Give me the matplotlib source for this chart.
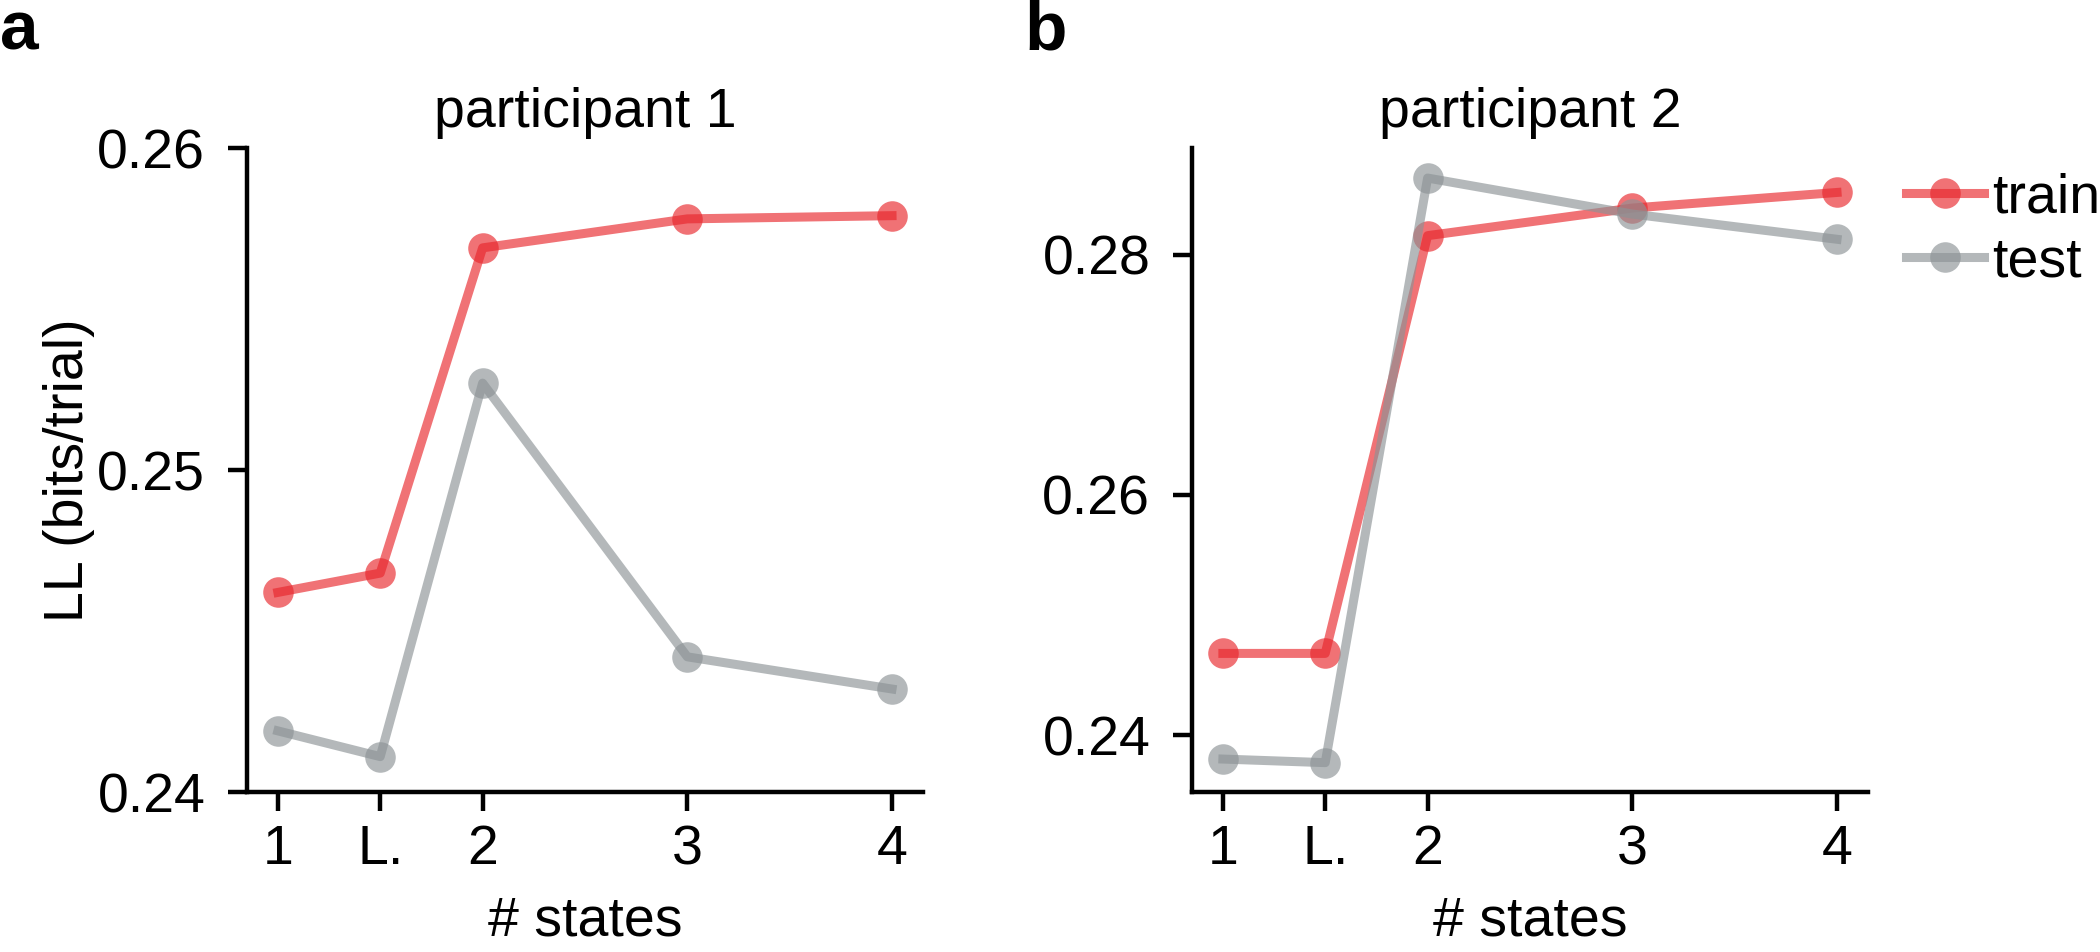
import matplotlib
matplotlib.use('Agg')
import matplotlib.pyplot as plt

plt.rcParams['font.family'] = ['Liberation Sans', 'DejaVu Sans']

# data
x_pos = [1, 1.5, 2, 3, 4]
x_labels = ['1', 'L.', '2', '3', '4']
p1_train = [0.2462, 0.2468, 0.2569, 0.2578, 0.2579]
p1_test = [0.2419, 0.2411, 0.2527, 0.2442, 0.2432]
p2_train = [0.2468, 0.2468, 0.2816, 0.2839, 0.2852]
p2_test = [0.2380, 0.2377, 0.2864, 0.2834, 0.2813]
p1_yticks = [0.24, 0.25, 0.26]
p2_yticks = [0.24, 0.26, 0.28]

red = '#e8262c'
gray = '#8c9396'
fs = 40

fig = plt.figure(figsize=(21, 9.52), dpi=100)
ax1 = fig.add_axes([0.1176, 0.168, 0.3219, 0.6765])
ax2 = fig.add_axes([0.5676, 0.168, 0.3219, 0.6765])


def style(ax):
    for s in ['top', 'right']:
        ax.spines[s].set_visible(False)
    for s in ['left', 'bottom']:
        ax.spines[s].set_linewidth(3.2)
    ax.tick_params(axis='both', length=14, width=3.2, labelsize=fs)
    ax.tick_params(axis='x', pad=9)
    ax.tick_params(axis='y', pad=16)
    ax.set_xticks(x_pos)
    ax.set_xticklabels(x_labels)
    ax.set_xlim(0.849, 4.151)
    ax.set_xlabel('# states', fontsize=fs, labelpad=14)


kw = dict(lw=6.5, marker='o', markersize=22, markeredgewidth=0, alpha=0.65)

ax1.plot(x_pos, p1_train, color=red, label='train', **kw)
ax1.plot(x_pos, p1_test, color=gray, label='test', **kw)
style(ax1)
ax1.set_ylim(0.24, 0.26)
ax1.set_yticks(p1_yticks)
ax1.set_yticklabels(['%.2f' % v for v in p1_yticks])
ax1.set_ylabel('LL (bits/trial)', fontsize=fs, labelpad=2)
ax1.set_title('participant 1', fontsize=fs, pad=15)

ax2.plot(x_pos, p2_train, color=red, label='train', **kw)
ax2.plot(x_pos, p2_test, color=gray, label='test', **kw)
style(ax2)
ax2.set_ylim(0.23525, 0.2889)
ax2.set_yticks(p2_yticks)
ax2.set_yticklabels(['%.2f' % v for v in p2_yticks])
ax2.set_title('participant 2', fontsize=fs, pad=15)
ax2.legend(loc='upper left', bbox_to_anchor=(1.056, 0.962), frameon=False,
           fontsize=fs, borderpad=0, borderaxespad=0, handlelength=1.4,
           handletextpad=0.16, labelspacing=0.21)

fig.text(0.0, 1 - 50 / 952, 'a', fontsize=50, fontweight='bold', va='baseline')
fig.text(1024 / 2100, 1 - 50 / 952, 'b', fontsize=50, fontweight='bold', va='baseline')

plt.savefig('out.png', dpi=100)
